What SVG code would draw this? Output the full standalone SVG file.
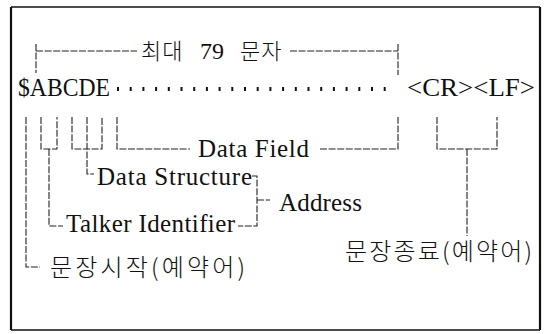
<svg xmlns="http://www.w3.org/2000/svg" width="544" height="334" viewBox="0 0 544 334">
  <style>
    .lat { font-family: "Liberation Serif", "Times New Roman", serif; font-size: 25px; fill: #111; }
    .kor { font-family: "Noto Sans CJK KR", "Noto Sans", sans-serif; font-weight: 300; fill: #111; }
    .ln  { fill: none; stroke: #222; stroke-width: 1.1; stroke-dasharray: 7 1.6; }
    .frame { fill: none; stroke: #111; }
  </style>

  <!-- page frame -->
  <g id="frame">
    <rect x="0" y="0" width="544" height="334" fill="#fff"/>
    <line class="frame" x1="11" y1="7" x2="540" y2="7" stroke-width="1.3"/>
    <line class="frame" x1="11" y1="330" x2="540" y2="330" stroke-width="1.5"/>
    <line class="frame" x1="11" y1="7" x2="11" y2="330" stroke-width="2.2"/>
    <line class="frame" x1="540" y1="7" x2="540" y2="330" stroke-width="2.2"/>
  </g>

  <!-- sentence line -->
  <g id="sentence">
    <text class="lat" x="18" y="96" textLength="92" lengthAdjust="spacingAndGlyphs">$ABCDE</text>
    <line x1="117" y1="89" x2="387" y2="89" stroke="#111" stroke-width="4" stroke-dasharray="2 10.7"/>
    <text class="lat" x="407" y="96" textLength="128" lengthAdjust="spacingAndGlyphs">&lt;CR&gt;&lt;LF&gt;</text>
  </g>

  <!-- maximum length dimension -->
  <g id="max-length">
    <text class="kor" y="59" font-size="22" letter-spacing="1"><tspan x="141">최대</tspan> <tspan x="200" font-family="Liberation Serif, serif" font-size="24" letter-spacing="0">79</tspan> <tspan x="240">문자</tspan></text>
  </g>

  <g id="data-field">
    <text class="lat" x="198" y="157" textLength="111" lengthAdjust="spacing">Data Field</text>
  </g>
  <g id="data-structure">
    <text class="lat" x="97" y="185" textLength="155" lengthAdjust="spacing">Data Structure</text>
  </g>
  <g id="address">
    <text class="lat" x="279" y="211" textLength="83" lengthAdjust="spacing">Address</text>
  </g>
  <g id="talker-identifier">
    <text class="lat" x="66" y="232" textLength="169" lengthAdjust="spacing">Talker Identifier</text>
  </g>
  <g id="sentence-end">
    <text class="kor" x="345" y="260" font-size="24" textLength="187" lengthAdjust="spacing">문장종료(예약어)</text>
  </g>
  <g id="sentence-start">
    <text class="kor" x="50" y="276" font-size="24" textLength="195" lengthAdjust="spacing">문장시작(예약어)</text>
  </g>

  <!-- connectors -->
  <g id="connectors">
    <!-- 79 character span -->
    <path class="ln" d="M36,44 V73 M36,51 H137 M290,51 H398 M398,44 V75"/>
    <!-- start marker -->
    <path class="ln" d="M26,117 V267 H40"/>
    <!-- talker identifier -->
    <path class="ln" d="M41,117 V149 H57 V117 M49,149 V226 H63"/>
    <!-- data structure -->
    <path class="ln" d="M72,117 V149 H102 V117 M87,117 V174 H94"/>
    <!-- data field -->
    <path class="ln" d="M117,117 V149 H190 M320,149 H398 V117"/>
    <!-- address -->
    <path class="ln" d="M252,176 H257 V226 H238 M257,200 H270"/>
    <!-- sentence terminator -->
    <path class="ln" d="M437,117 V149 H497 V117 M467,149 V236"/>
  </g>
</svg>
